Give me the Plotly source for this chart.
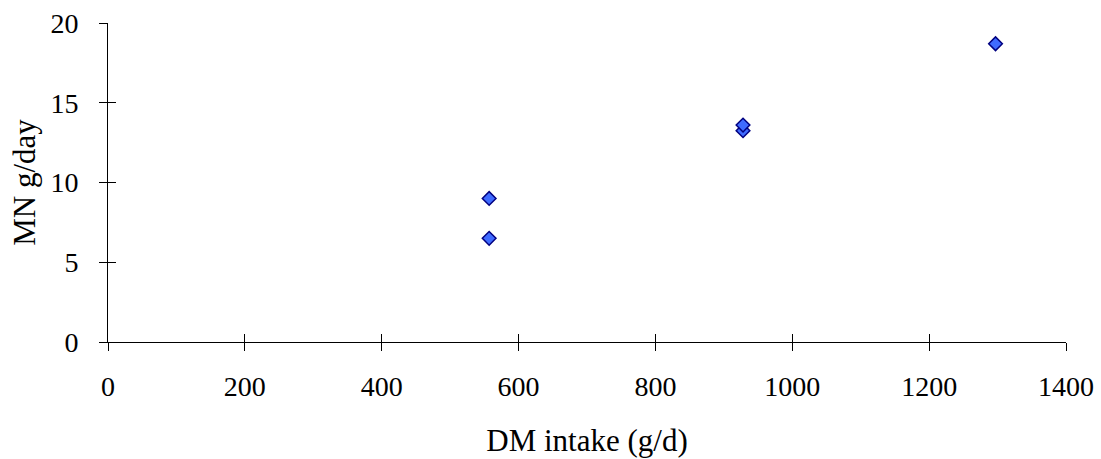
import plotly.graph_objects as go

dm_intake = [557, 557, 928, 928, 1297]
mn_g_day = [6.5, 9.0, 13.25, 13.6, 18.7]
x_ticks = [0, 200, 400, 600, 800, 1000, 1200, 1400]
y_ticks = [0, 5, 10, 15, 20]

FONT = "Liberation Serif"
TICK_SIZE = 28
TITLE_SIZE = 31

fig = go.Figure()
fig.add_trace(go.Scatter(
    x=dm_intake, y=mn_g_day, mode="markers",
    marker=dict(symbol="diamond", size=10.5, color="#3F6BFF",
                line=dict(color="#000080", width=1.5)),
    showlegend=False, hoverinfo="x+y"))
# invisible trace to anchor overlay axes (inside ticks)
fig.add_trace(go.Scatter(x=dm_intake, y=mn_g_day, xaxis="x2", yaxis="y2",
                         mode="markers", marker=dict(opacity=0), showlegend=False,
                         hoverinfo="skip"))

common = dict(showgrid=False, zeroline=False, showline=True, linecolor="black",
              linewidth=1, tickcolor="black", tickwidth=1, ticklen=8,
              automargin=False)
fig.update_layout(
    width=1101, height=459,
    margin=dict(l=108, r=35, t=23, b=117),
    paper_bgcolor="white", plot_bgcolor="white",
    font=dict(family=FONT, size=TICK_SIZE, color="black"),
    xaxis=dict(range=[0, 1400], tickvals=x_ticks, ticks="outside",
               ticklabelstandoff=11, tickfont=dict(size=TICK_SIZE),
               title=dict(text="DM intake (g/d)", standoff=28,
                          font=dict(family=FONT, size=TITLE_SIZE)), **common),
    yaxis=dict(range=[0, 20], tickvals=y_ticks, ticks="outside",
               ticklabelstandoff=15, tickfont=dict(size=TICK_SIZE),
               title=dict(text="MN g/day", standoff=5,
                          font=dict(family=FONT, size=TITLE_SIZE)), **common),
    xaxis2=dict(range=[0, 1400], tickvals=x_ticks, ticks="inside",
                overlaying="x", anchor="y2", showticklabels=False, **common),
    yaxis2=dict(range=[0, 20], tickvals=y_ticks, ticks="inside",
                overlaying="y", anchor="x2", showticklabels=False, **common),
)
fig.write_html("out.html", config={"displayModeBar": False},
               post_script="document.body.style.margin='0';document.body.style.overflow='hidden';")
